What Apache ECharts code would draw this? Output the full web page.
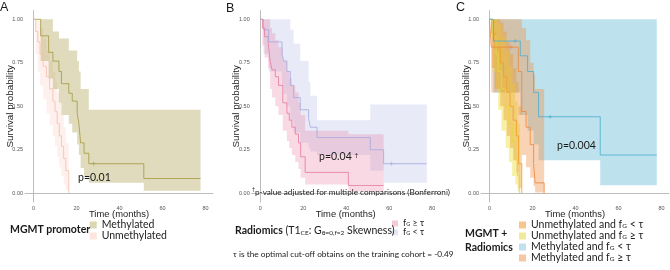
<!DOCTYPE html>
<html>
<head>
<meta charset="utf-8">
<script src="https://cdn.jsdelivr.net/npm/echarts@6/dist/echarts.min.js"></script>
<style>
html, body { margin: 0; padding: 0; background: #fff; }
#chart { width: 670px; height: 270px; }
</style>
</head>
<body>
<div id="chart"></div>
<script>
// ---- axis ticks ----
const xTicks = [0, 20, 40, 60, 80]
const yTicks = [0, 0.25, 0.5, 0.75, 1]

// ---- panel A: MGMT promoter ----
const methTime  = [0, 3.3, 7, 9, 11.8, 13, 16.4, 18, 20.3, 21.1, 21.9, 23.5, 25.7, 51.3, 77.7]
const methSurv  = [1, 0.905, 0.81, 0.76, 0.70, 0.63, 0.575, 0.53, 0.46, 0.40, 0.29, 0.23, 0.17, 0.085, 0.085]
const methUpper = [1, 1, 1, 0.93, 0.89, 0.89, 0.82, 0.82, 0.76, 0.70, 0.60, 0.60, 0.48, 0.48, 0.48]
const methLower = [1, 0.76, 0.66, 0.60, 0.52, 0.45, 0.40, 0.35, 0.28, 0.22, 0.145, 0.10, 0.06, 0.015, 0.015]

const unmTime  = [0, 1, 2, 3, 4.5, 6, 7.5, 9, 10, 11, 12, 13, 14, 15, 16.4]
const unmSurv  = [1, 0.93, 0.87, 0.80, 0.73, 0.67, 0.60, 0.53, 0.47, 0.40, 0.33, 0.27, 0.20, 0.13, 0]
const unmUpper = [1, 1, 0.99, 0.95, 0.89, 0.82, 0.76, 0.70, 0.64, 0.58, 0.52, 0.45, 0.38, 0.29, 0]
const unmLower = [1, 0.80, 0.70, 0.62, 0.54, 0.46, 0.39, 0.33, 0.27, 0.21, 0.15, 0.10, 0.05, 0.02, 0]

// ---- panel B: radiomics ----
const geTime  = [0, 1, 2, 3.7, 4.6, 5.5, 7, 8.5, 10.5, 12.4, 13.5, 14.7, 16.3, 17.8, 18.8, 20.9, 41, 57.4]
const geSurv  = [1, 0.95, 0.90, 0.86, 0.76, 0.71, 0.67, 0.62, 0.52, 0.46, 0.42, 0.38, 0.34, 0.29, 0.21, 0.12, 0.045, 0.045]
const geUpper = [1, 1, 1, 1, 0.95, 0.92, 0.88, 0.84, 0.76, 0.70, 0.66, 0.62, 0.58, 0.52, 0.45, 0.36, 0.34, 0.34]
const geLower = [1, 0.85, 0.78, 0.72, 0.60, 0.55, 0.50, 0.45, 0.36, 0.30, 0.26, 0.22, 0.18, 0.14, 0.09, 0.05, 0.01, 0.01]

const ltTime  = [0, 1.5, 3.9, 10.1, 10.9, 12.4, 14, 15.5, 18.6, 22.5, 23.3, 26.4, 51.2, 57.4, 77.5]
const ltSurv  = [1, 0.94, 0.87, 0.80, 0.76, 0.70, 0.62, 0.55, 0.48, 0.43, 0.38, 0.32, 0.25, 0.17, 0.17]
const ltUpper = [1, 1, 1, 1, 1, 1, 0.94, 0.86, 0.76, 0.64, 0.56, 0.42, 0.51, 0.51, 0.51]
const ltLower = [1, 0.80, 0.70, 0.62, 0.57, 0.50, 0.42, 0.35, 0.29, 0.26, 0.24, 0.22, 0.13, 0.06, 0.06]

// ---- panel C: MGMT + radiomics ----
const umLtTime  = [0, 1, 2.5, 5, 6.5, 8, 9.5, 11, 12.5, 13.5, 15]
const umLtSurv  = [1, 0.92, 0.83, 0.75, 0.67, 0.58, 0.50, 0.42, 0.33, 0.17, 0]
const umLtUpper = [1, 1, 1, 0.98, 0.93, 0.87, 0.80, 0.72, 0.64, 0.50, 0]
const umLtLower = [1, 0.72, 0.60, 0.50, 0.42, 0.33, 0.26, 0.19, 0.12, 0.03, 0]

const umGeTime  = [0, 1.5, 3, 4, 5.5, 7.5, 9, 10.5, 12, 13, 14]
const umGeSurv  = [1, 0.9, 0.8, 0.7, 0.6, 0.5, 0.4, 0.3, 0.2, 0.1, 0]
const umGeUpper = [1, 1, 1, 0.97, 0.90, 0.82, 0.73, 0.63, 0.53, 0.40, 0]
const umGeLower = [1, 0.70, 0.60, 0.48, 0.36, 0.26, 0.18, 0.10, 0.05, 0.01, 0]

const mLtTime  = [0, 1.8, 14.3, 17.7, 20.5, 22.8, 51.5, 77.8]
const mLtSurv  = [1, 0.875, 0.79, 0.70, 0.58, 0.44, 0.22, 0.22]
const mLtUpper = [1, 1, 1, 1, 1, 1, 1, 1]
const mLtLower = [1, 0.58, 0.45, 0.36, 0.28, 0.19, 0.046, 0.046]

const mGeTime  = [0, 0.8, 13.4, 15, 17, 18.9, 20.5, 21.2, 25.4]
const mGeSurv  = [1, 0.84, 0.70, 0.47, 0.38, 0.28, 0.17, 0.06, 0]
const mGeUpper = [1, 1, 1, 0.95, 0.88, 0.75, 0.68, 0.60, 0]
const mGeLower = [1, 0.58, 0.45, 0.22, 0.15, 0.09, 0.04, 0.005, 0]

// censor marks
const censMeth = [[28, 0.17]]
const censLt = [[61, 0.17]]
const censMLt = [[11.9, 0.875], [28.2, 0.44]]
const censMGe = [[10.1, 0.84]]

const gridLefts = [25, 251.7, 481]
const plusIcon = 'path://M4,0h2v10h-2zM0,4h10v2h-10z'

// confidence band drawn as one step polygon through the axis scales
function band(idx, t, lo, hi, fill) {
  return {
    type: 'custom',
    xAxisIndex: idx,
    yAxisIndex: idx,
    silent: true,
    z: 1,
    data: t.map((x, i) => [x, lo[i], hi[i]]),
    encode: { x: 0, y: [1, 2] },
    renderItem: function (params, api) {
      if (params.dataIndex !== 0) return null
      const top = []
      const bot = []
      for (let i = 0; i < t.length; i++) {
        top.push(api.coord([t[i], hi[i]]))
        bot.push(api.coord([t[i], lo[i]]))
        if (i < t.length - 1) {
          top.push(api.coord([t[i + 1], hi[i]]))
          bot.push(api.coord([t[i + 1], lo[i]]))
        }
      }
      return {
        type: 'polygon',
        shape: { points: top.concat(bot.reverse()) },
        style: { fill: fill }
      }
    }
  }
}

function kmLine(idx, name, t, s, color) {
  return {
    type: 'line',
    name: name,
    xAxisIndex: idx,
    yAxisIndex: idx,
    step: 'end',
    symbol: 'none',
    silent: true,
    z: 3,
    data: t.map((x, i) => [x, s[i]]),
    lineStyle: { color: color, width: 1, opacity: 0.85 },
    itemStyle: { color: color }
  }
}

function censor(idx, pts, color) {
  return {
    type: 'scatter',
    xAxisIndex: idx,
    yAxisIndex: idx,
    symbol: plusIcon,
    symbolSize: 4,
    silent: true,
    z: 4,
    data: pts,
    itemStyle: { color: color }
  }
}

const axisFont = 'Liberation Sans'
const noteFont = 'Lato'

const grids = gridLefts.map(l => ({ left: l, top: 10.6, width: 188, height: 191.4 }))

const xAxes = gridLefts.map((l, i) => ({
  type: 'value',
  gridIndex: i,
  min: -3.98,
  max: 83.5,
  name: 'Time (months)',
  nameLocation: 'middle',
  nameGap: 8,
  nameMoveOverlap: false,
  nameTextStyle: { fontFamily: axisFont, fontSize: 9.4, color: '#222' },
  axisLine: { lineStyle: { color: '#bdbdbd', width: 1 } },
  axisTick: { show: false },
  splitLine: { show: false },
  axisLabel: { customValues: xTicks, fontFamily: axisFont, fontSize: 5.5, color: '#555', margin: 3 }
}))

const yAxes = gridLefts.map((l, i) => ({
  type: 'value',
  gridIndex: i,
  min: -0.05,
  max: 1.05,
  name: 'Survival probability',
  nameLocation: 'middle',
  nameGap: 10,
  nameMoveOverlap: false,
  nameTextStyle: { fontFamily: axisFont, fontSize: 9.8, color: '#222' },
  axisLine: { show: true, lineStyle: { color: '#bdbdbd', width: 1 } },
  axisTick: { show: false },
  splitLine: { show: false },
  axisLabel: {
    customValues: yTicks,
    fontFamily: axisFont,
    fontSize: 5.5,
    color: '#555',
    margin: 2,
    formatter: v => v.toFixed(2)
  }
}))

// legend labels: every part goes through a rich token so the row height is fixed
function legendLabel(name) {
  const parts = name.split('f_G')
  if (parts.length === 1) return '{n|' + name + '}'
  return '{n|' + parts[0] + 'f}{s|G}{n|' + parts[1] + '}'
}

function legendRich(size, subSize, lh) {
  return {
    n: { fontFamily: noteFont, fontSize: size, color: '#222', lineHeight: lh },
    s: { fontFamily: noteFont, fontSize: subSize, color: '#222', verticalAlign: 'bottom', lineHeight: lh }
  }
}

function note(x, y, text, font, rich) {
  return {
    type: 'text', x: x, y: y, z: 10,
    style: { text: text, font: font, fill: '#1a1a1a', align: 'left', verticalAlign: 'middle',
      textAlign: 'left', textVerticalAlign: 'middle', rich: rich }
  }
}

const supRich = size => ({ sup: { fontFamily: noteFont, fontSize: size, verticalAlign: 'top', lineHeight: 11 } })

const option = {
  animation: false,
  backgroundColor: '#fff',
  grid: grids,
  xAxis: xAxes,
  yAxis: yAxes,
  legend: [
    {
      orient: 'vertical', left: 89.7, top: 219.5, padding: 0, itemWidth: 7, itemHeight: 7, itemGap: 0,
      icon: 'rect', selectedMode: false,
      formatter: legendLabel,
      textStyle: { rich: legendRich(10.5, 6.5, 9.7) },
      data: [
        { name: 'Methylated', itemStyle: { color: '#dcd7b3' } },
        { name: 'Unmethylated', itemStyle: { color: '#fde4dc' } }
      ]
    },
    {
      orient: 'vertical', left: 392, top: 219, padding: 0, itemWidth: 6, itemHeight: 6, itemGap: 0,
      icon: 'rect', selectedMode: false,
      formatter: legendLabel,
      textStyle: { rich: legendRich(9, 5.5, 7.7) },
      data: [
        { name: 'f_G ≥ τ', itemStyle: { color: '#f4cbd9' } },
        { name: 'f_G < τ', itemStyle: { color: '#e4e5f5' } }
      ]
    },
    {
      orient: 'vertical', left: 519, top: 219.5, padding: 0, itemWidth: 7, itemHeight: 7, itemGap: 0,
      icon: 'rect', selectedMode: false,
      formatter: legendLabel,
      textStyle: { rich: legendRich(10.5, 6.5, 9.5) },
      data: [
        { name: 'Unmethylated and f_G < τ', itemStyle: { color: '#f6c68a' } },
        { name: 'Unmethylated and f_G ≥ τ', itemStyle: { color: '#f1ea98' } },
        { name: 'Methylated and f_G < τ', itemStyle: { color: '#c0e1ed' } },
        { name: 'Methylated and f_G ≥ τ', itemStyle: { color: '#f7c6a2' } }
      ]
    }
  ],
  graphic: [
    note(0, 8, 'A', '12.5px "Liberation Sans"'),
    note(226, 9, 'B', '12.5px "Liberation Sans"'),
    note(456, 8, 'C', '12.5px "Liberation Sans"'),
    note(78, 177.7, 'p=0.01', '10.5px Lato'),
    note(319, 157, 'p=0.04 {sup|†}', '10.5px Lato', supRich(6.5)),
    note(557, 146, 'p=0.004', '10.5px Lato'),
    note(252, 192.5, '{sup|†}p-value adjusted for multiple comparisons (Bonferroni)', '8.2px Lato', supRich(5.2)),
    note(10, 230, 'MGMT promoter', 'bold 10.5px Lato'),
    note(235, 230.7, '{b|Radiomics} (T1{s|CE}: G{s|θ=0,f=2} Skewness)', '10.5px Lato', {
      b: { fontFamily: noteFont, fontWeight: 'bold', fontSize: 10.5, lineHeight: 12 },
      s: { fontFamily: noteFont, fontSize: 6.5, verticalAlign: 'bottom', lineHeight: 12 }
    }),
    note(465, 234, 'MGMT +', 'bold 10.5px Lato'),
    note(465, 247.7, 'Radiomics', 'bold 10.5px Lato'),
    note(233, 254, 'τ is the optimal cut-off obtains on the training cohort = -0.49', '8.3px Lato')
  ],
  series: [
    // A
    band(0, unmTime, unmLower, unmUpper, 'rgba(248,170,150,0.18)'),
    band(0, methTime, methLower, methUpper, 'rgba(168,156,72,0.37)'),
    kmLine(0, 'Methylated', methTime, methSurv, '#a89c48'),
    kmLine(0, 'Unmethylated', unmTime, unmSurv, '#f7c0b0'),
    censor(0, censMeth, '#a89c48'),
    // B
    band(1, ltTime, ltLower, ltUpper, 'rgba(165,170,225,0.25)'),
    band(1, geTime, geLower, geUpper, 'rgba(232,128,165,0.30)'),
    kmLine(1, 'f_G ≥ τ', geTime, geSurv, '#e8809f'),
    kmLine(1, 'f_G < τ', ltTime, ltSurv, '#a7abe0'),
    censor(1, censLt, '#a7abe0'),
    // C
    band(2, mLtTime, mLtLower, mLtUpper, 'rgba(75,175,205,0.36)'),
    band(2, mGeTime, mGeLower, mGeUpper, 'rgba(240,150,80,0.42)'),
    band(2, umGeTime, umGeLower, umGeUpper, 'rgba(235,225,60,0.45)'),
    band(2, umLtTime, umLtLower, umLtUpper, 'rgba(235,155,45,0.42)'),
    kmLine(2, 'Unmethylated and f_G < τ', umLtTime, umLtSurv, '#f0a030'),
    kmLine(2, 'Unmethylated and f_G ≥ τ', umGeTime, umGeSurv, '#e3d83a'),
    kmLine(2, 'Methylated and f_G < τ', mLtTime, mLtSurv, '#4fb0cf'),
    kmLine(2, 'Methylated and f_G ≥ τ', mGeTime, mGeSurv, '#ee8a40'),
    censor(2, censMLt, '#4fb0cf'),
    censor(2, censMGe, '#ee8a40')
  ]
}

const chart = echarts.init(document.getElementById('chart'))
chart.setOption(option)
</script>
</body>
</html>
